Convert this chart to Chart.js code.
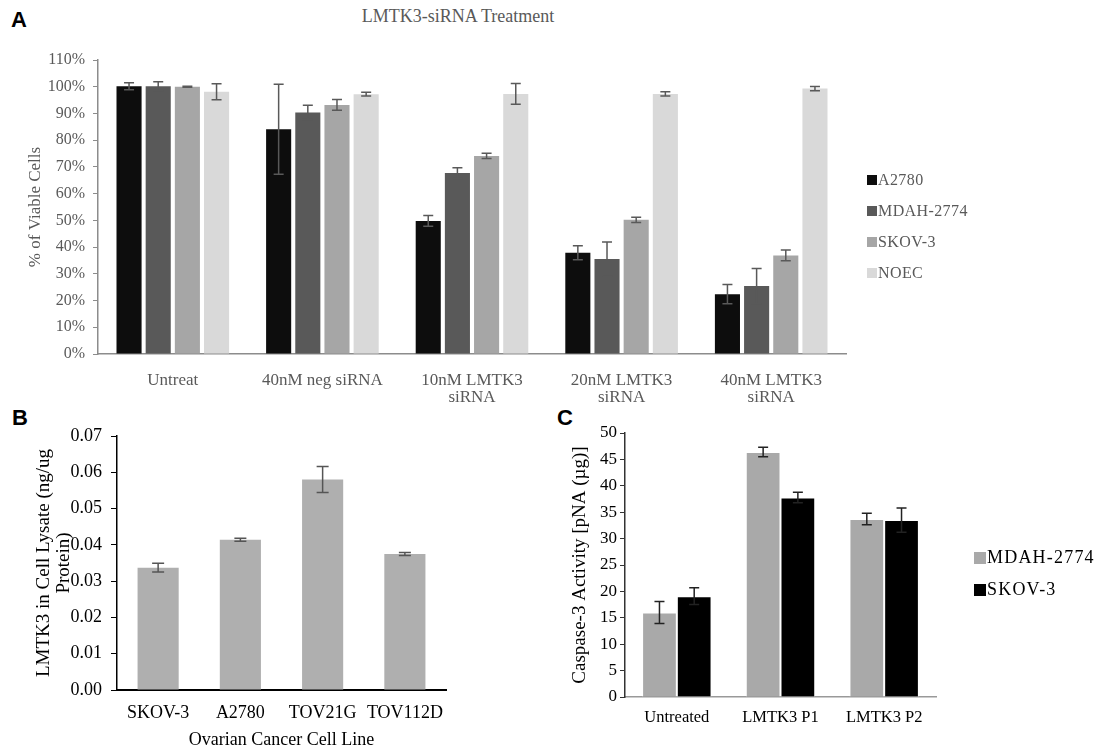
<!DOCTYPE html>
<html>
<head>
<meta charset="utf-8">
<script src="https://cdn.jsdelivr.net/npm/chart.js@4.4.0/dist/chart.umd.min.js"></script>
<style>
  body { margin: 0; background: #fff; width: 1110px; height: 751px; position: relative; overflow: hidden; font-family: "Liberation Serif", serif; }
  canvas { position: absolute; }
  .panel { position: absolute; font-family: "Liberation Sans", Arial, sans-serif; font-weight: bold; font-size: 22px; color: #000; }
  .title { position: absolute; left: 258px; width: 400px; top: 6px; text-align: center; font-size: 18px; color: #595959; }
  .legend { position: absolute; }
  .legend div { position: absolute; white-space: nowrap; }
  .legend span { display: inline-block; vertical-align: middle; margin-right: 1px; position: relative; top: -1px; }
</style>
</head>
<body>
<div class="panel" style="left:11px; top:7px;">A</div>
<div class="panel" style="left:12px; top:405px;">B</div>
<div class="panel" style="left:557px; top:405px;">C</div>
<div class="title">LMTK3-siRNA Treatment</div>

<canvas id="chartA" width="1110" height="410" style="left:0; top:0;"></canvas>
<canvas id="chartB" width="540" height="351" style="left:0; top:400px;"></canvas>
<canvas id="chartC" width="570" height="351" style="left:540px; top:400px;"></canvas>

<div id="legendA" class="legend" style="left:867px; top:171px; font-size:16px; letter-spacing:0.4px; color:#595959;"></div>
<div id="legendC" class="legend" style="left:974px; top:547px; font-size:18px; letter-spacing:1.2px; color:#000;"></div>

<script>
// panel A: cell viability after siRNA
const treatLabels = ["Untreat", "40nM neg siRNA", ["10nM LMTK3", "siRNA"], ["20nM LMTK3", "siRNA"], ["40nM LMTK3", "siRNA"]];
const a2780 = [100.2, 84.1, 49.8, 37.9, 22.4];
const a2780Err = [1.3, 16.8, 2.0, 2.6, 3.6];
const mdah = [100.2, 90.4, 67.7, 35.5, 25.4];
const mdahErr = [1.7, 2.7, 2.0, 6.4, 6.6];
const skov = [100.0, 93.2, 74.1, 50.2, 36.9];
const skovErr = [0.2, 2.0, 1.0, 1.0, 2.0];
const noec = [98.1, 97.2, 97.3, 97.3, 99.3];
const noecErr = [3.0, 0.7, 3.9, 0.8, 0.8];

// panel B: LMTK3 level per cell line
const cellLines = ["SKOV-3", "A2780", "TOV21G", "TOV112D"];
const lmtk3Level = [0.0337, 0.0414, 0.0580, 0.0375];
const lmtk3Err = [0.0012, 0.0004, 0.0036, 0.0004];

// panel C: caspase-3 activity
const caspLabels = ["Untreated", "LMTK3 P1", "LMTK3 P2"];
const caspMdah = [16.0, 46.4, 33.7];
const caspMdahErr = [2.1, 0.9, 1.1];
const caspSkov = [19.1, 37.8, 33.5];
const caspSkovErr = [1.6, 1.0, 2.3];

const serif = "Liberation Serif";

// draws +/- error whiskers on top of the bars
const errorBars = {
  id: "errorBars",
  afterDatasetsDraw(chart, args, opts) {
    const ctx = chart.ctx;
    const y = chart.scales.y;
    chart.data.datasets.forEach((ds, i) => {
      if (!ds.errors) return;
      const meta = chart.getDatasetMeta(i);
      ctx.save();
      ctx.strokeStyle = opts.color;
      ctx.lineWidth = opts.width;
      meta.data.forEach((bar, j) => {
        const v = ds.data[j], e = ds.errors[j];
        const top = y.getPixelForValue(v + e);
        const bot = y.getPixelForValue(v - e);
        ctx.beginPath();
        ctx.moveTo(bar.x, top); ctx.lineTo(bar.x, bot);
        ctx.moveTo(bar.x - opts.cap, top); ctx.lineTo(bar.x + opts.cap, top);
        ctx.moveTo(bar.x - opts.cap, bot); ctx.lineTo(bar.x + opts.cap, bot);
        ctx.stroke();
      });
      ctx.restore();
    });
  }
};

function makeLegend(el, items, size, gap) {
  items.forEach((it, i) => {
    const row = document.createElement("div");
    row.style.top = (i * gap) + "px";
    row.innerHTML = '<span style="width:' + size + 'px;height:' + size + 'px;background:' + it.color + '"></span>' + it.label;
    el.appendChild(row);
  });
}

const aSets = [
  { label: "A2780", data: a2780, errors: a2780Err, backgroundColor: "#0d0d0d" },
  { label: "MDAH-2774", data: mdah, errors: mdahErr, backgroundColor: "#595959" },
  { label: "SKOV-3", data: skov, errors: skovErr, backgroundColor: "#a6a6a6" },
  { label: "NOEC", data: noec, errors: noecErr, backgroundColor: "#d9d9d9" }
];

new Chart(document.getElementById("chartA"), {
  type: "bar",
  data: { labels: treatLabels, datasets: aSets },
  options: {
    responsive: false,
    animation: false,
    layout: { padding: { left: 0, right: 264, top: 60, bottom: 0 } },
    datasets: { bar: { categoryPercentage: 0.78, barPercentage: 0.86 } },
    plugins: {
      legend: { display: false },
      tooltip: { enabled: false },
      errorBars: { color: "#595959", width: 1.5, cap: 5 }
    },
    scales: {
      x: {
        grid: { display: false, drawTicks: false },
        border: { color: "#8c8c8c", width: 1.5 },
        ticks: { color: "#595959", font: { family: serif, size: 17, lineHeight: 1.0 }, padding: 18, maxRotation: 0, autoSkip: false },
        afterFit(s) { s.height = 56; }
      },
      y: {
        min: 0, max: 110,
        ticks: { stepSize: 10, callback: v => v + "%", color: "#595959", font: { family: serif, size: 16 }, padding: 8 },
        grid: { drawOnChartArea: false, tickLength: 5, color: "#8c8c8c" },
        border: { color: "#8c8c8c", width: 1.5 },
        title: { display: true, text: "% of Viable Cells", color: "#595959", font: { family: serif, size: 17 }, padding: { top: 25 } },
        afterFit(s) { s.width = 98; }
      }
    }
  },
  plugins: [errorBars]
});

makeLegend(document.getElementById("legendA"), aSets.map(d => ({ label: d.label, color: d.backgroundColor })), 10, 31);

new Chart(document.getElementById("chartB"), {
  type: "bar",
  data: {
    labels: cellLines,
    datasets: [{ label: "LMTK3", data: lmtk3Level, errors: lmtk3Err, backgroundColor: "#afafaf" }]
  },
  options: {
    responsive: false,
    animation: false,
    layout: { padding: { left: 0, right: 94, top: 36, bottom: 0 } },
    datasets: { bar: { categoryPercentage: 0.5, barPercentage: 1.0 } },
    plugins: {
      legend: { display: false },
      tooltip: { enabled: false },
      errorBars: { color: "#555", width: 1.5, cap: 6 }
    },
    scales: {
      x: {
        grid: { display: false, drawTicks: false },
        border: { color: "#000", width: 2 },
        ticks: { color: "#000", font: { family: serif, size: 18 }, padding: 12, maxRotation: 0, autoSkip: false },
        title: { display: true, text: "Ovarian Cancer Cell Line", color: "#000", font: { family: serif, size: 18 }, padding: { top: 2, bottom: 0 } },
        afterFit(s) { s.height = 61; }
      },
      y: {
        min: 0, max: 0.07,
        ticks: { stepSize: 0.01, callback: v => v.toFixed(2), color: "#000", font: { family: serif, size: 18 }, padding: 9 },
        grid: { drawOnChartArea: false, tickLength: 6, color: "#000" },
        border: { color: "#000", width: 1.5 },
        title: { display: true, text: ["LMTK3 in Cell Lysate (ng/ug", "Protein)"], color: "#000", font: { family: serif, size: 19, lineHeight: 1.05 }, padding: { top: 34 } },
        afterFit(s) { s.width = 117; }
      }
    }
  },
  plugins: [errorBars]
});

const cSets = [
  { label: "MDAH-2774", data: caspMdah, errors: caspMdahErr, backgroundColor: "#a9a9a9", borderColor: "#fff", borderWidth: 1 },
  { label: "SKOV-3", data: caspSkov, errors: caspSkovErr, backgroundColor: "#000", borderColor: "#fff", borderWidth: 1 }
];

new Chart(document.getElementById("chartC"), {
  type: "bar",
  data: { labels: caspLabels, datasets: cSets },
  options: {
    responsive: false,
    animation: false,
    layout: { padding: { left: 0, right: 174, top: 33, bottom: 0 } },
    datasets: { bar: { categoryPercentage: 0.67, barPercentage: 1.0 } },
    plugins: {
      legend: { display: false },
      tooltip: { enabled: false },
      errorBars: { color: "#222", width: 1.5, cap: 5 }
    },
    scales: {
      x: {
        grid: { display: false, drawTicks: false },
        border: { color: "#999", width: 1.5 },
        ticks: { color: "#000", font: { family: serif, size: 16.5 }, padding: 11, maxRotation: 0, autoSkip: false },
        afterFit(s) { s.height = 54; }
      },
      y: {
        min: 0, max: 50,
        ticks: { stepSize: 5, color: "#000", font: { family: serif, size: 17 }, padding: 3 },
        grid: { drawOnChartArea: false, tickLength: 5, color: "#333" },
        border: { color: "#333", width: 1.5 },
        title: { display: true, text: "Caspase-3 Activity [pNA (µg)]", color: "#000", font: { family: serif, size: 19 }, padding: { top: 29 } },
        afterFit(s) { s.width = 85; }
      }
    }
  },
  plugins: [errorBars]
});

makeLegend(document.getElementById("legendC"), cSets.map(d => ({ label: d.label, color: d.backgroundColor })), 12, 32);
</script>
</body>
</html>
